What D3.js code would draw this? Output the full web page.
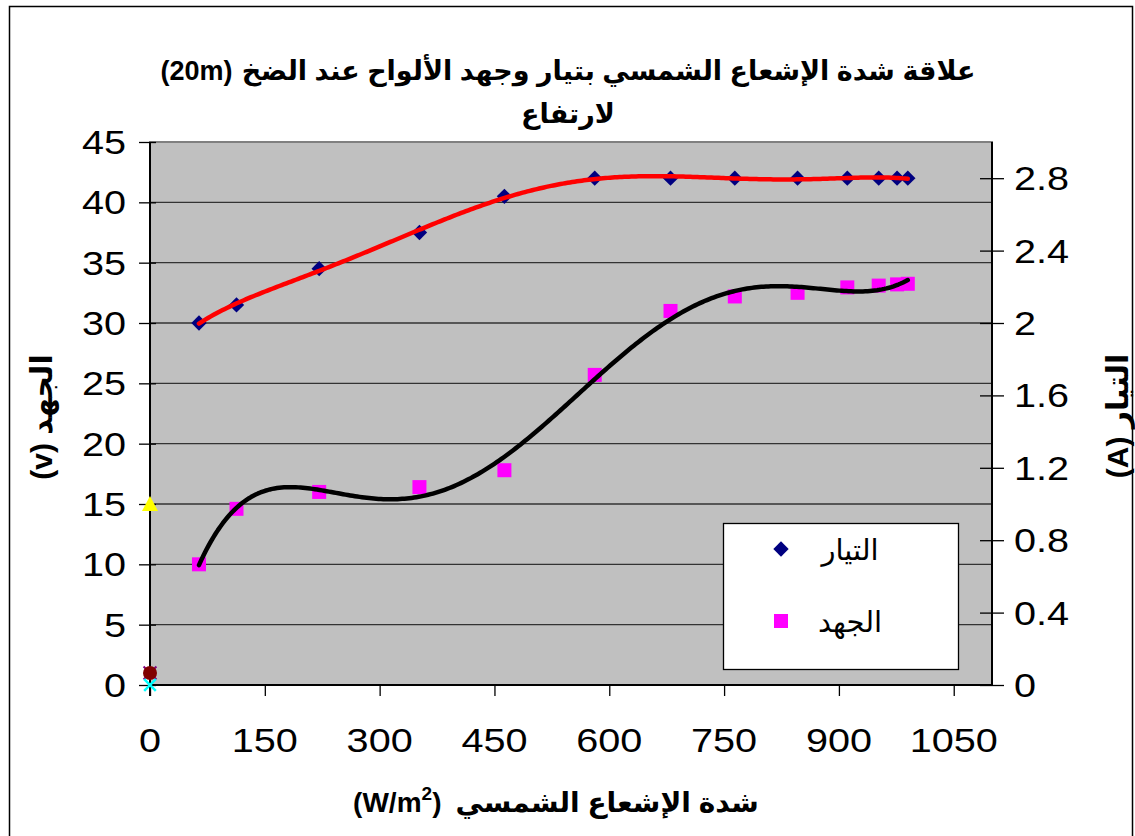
<!DOCTYPE html>
<html>
<head>
<meta charset="utf-8">
<script src="https://cdn.jsdelivr.net/npm/d3@7"></script>
<style>
  html, body { margin: 0; padding: 0; background: #fff; }
  svg { display: block; }
  text { font-family: "Liberation Sans", Arial, "DejaVu Sans", sans-serif; }
</style>
</head>
<body>
<svg id="chart" width="1135" height="836"></svg>
<script>
// Solar radiation (W/m²) at each measurement
const radiation = [64, 113, 221, 352, 463, 581, 680, 764, 846, 911, 952, 976, 990];
// Panel current (A), right axis
const current = [2.0, 2.1, 2.3, 2.5, 2.7, 2.8, 2.8, 2.8, 2.8, 2.8, 2.8, 2.8, 2.8];
// Panel voltage (V), left axis
const voltage = [10.0, 14.6, 16.0, 16.4, 17.8, 25.7, 31.0, 32.2, 32.5, 32.95, 33.1, 33.2, 33.25];

// Extra single-point series plotted at zero radiation (left axis)
const triangleSeries = [{ x: 0, y: 15 }];
const circleSeries = [{ x: 0, y: 1 }];
const crossSeries = [{ x: 0, y: 0 }];

// Axis ticks
const xTicks = [0, 150, 300, 450, 600, 750, 900, 1050];
const leftTicks = [0, 5, 10, 15, 20, 25, 30, 35, 40, 45];
const rightTicks = [0, 0.4, 0.8, 1.2, 1.6, 2.0, 2.4, 2.8];
const rightTickLabels = ["0", "0.4", "0.8", "1.2", "1.6", "2", "2.4", "2.8"];

const titleArabic = "علاقة شدة الإشعاع الشمسي بتيار وجهد الألواح عند الضخ";
const titleUnit = "(20m)";
const titleLine2 = "لارتفاع";
const xTitle = "شدة الإشعاع الشمسي";
const xUnit = "(W/m";
const leftTitle = "الجهد (v)\u200F";
const rightTitle = "التيار (A)\u200F";
const legendLabels = ["التيار", "الجهد"];

const svg = d3.select("#chart");
const plot = { left: 150, top: 142, right: 992, bottom: 685 };

const x = d3.scaleLinear().domain([0, 1100]).range([plot.left, plot.right]);
const yL = d3.scaleLinear().domain([0, 45]).range([plot.bottom, plot.top]);
const yR = d3.scaleLinear().domain([0, 3]).range([plot.bottom, plot.top]);

// Least-squares polynomial trend line (order 6)
function polyFit(xs, ys, deg) {
  const mx = d3.mean(xs), sx = (d3.max(xs) - d3.min(xs)) / 2;
  const ts = xs.map(v => (v - mx) / sx);
  const m = deg + 1;
  const A = Array.from({ length: m }, () => new Array(m + 1).fill(0));
  ts.forEach((t, k) => {
    const p = [];
    for (let i = 0; i < m; i++) p.push(Math.pow(t, i));
    for (let i = 0; i < m; i++) {
      for (let j = 0; j < m; j++) A[i][j] += p[i] * p[j];
      A[i][m] += p[i] * ys[k];
    }
  });
  for (let c = 0; c < m; c++) {
    let piv = c;
    for (let r = c + 1; r < m; r++) if (Math.abs(A[r][c]) > Math.abs(A[piv][c])) piv = r;
    [A[c], A[piv]] = [A[piv], A[c]];
    for (let r = 0; r < m; r++) {
      if (r === c) continue;
      const f = A[r][c] / A[c][c];
      for (let j = c; j <= m; j++) A[r][j] -= f * A[c][j];
    }
  }
  const coef = A.map((row, i) => row[m] / row[i]);
  return v => {
    const t = (v - mx) / sx;
    let s = 0;
    for (let i = m - 1; i >= 0; i--) s = s * t + coef[i];
    return s;
  };
}

// Outer chart border
svg.append("rect").attr("x", 9.5).attr("y", 6.5).attr("width", 1123).attr("height", 840)
  .attr("fill", "#fff").attr("stroke", "#000").attr("stroke-width", 1.5);

// Plot area
svg.append("rect").attr("x", plot.left).attr("y", plot.top)
  .attr("width", plot.right - plot.left).attr("height", plot.bottom - plot.top)
  .attr("fill", "#c0c0c0").attr("stroke", "#808080").attr("stroke-width", 2);

// Gridlines
svg.append("g").selectAll("line").data(leftTicks.filter(d => d > 0 && d < 45)).join("line")
  .attr("x1", plot.left).attr("x2", plot.right)
  .attr("y1", d => yL(d)).attr("y2", d => yL(d))
  .attr("stroke", "#333").attr("stroke-width", 1.3);

// Axes (tick marks from d3, labels drawn below with a wider numeral face)
const gx = svg.append("g").attr("transform", `translate(0,${plot.bottom})`)
  .call(d3.axisBottom(x).tickValues(xTicks).tickSize(11).tickSizeOuter(0).tickFormat(""));
const gl = svg.append("g").attr("transform", `translate(${plot.left},0)`)
  .call(d3.axisLeft(yL).tickValues(leftTicks).tickSize(11).tickSizeOuter(0).tickFormat(""));
const gr = svg.append("g").attr("transform", `translate(${plot.right},0)`)
  .call(d3.axisRight(yR).tickValues(rightTicks).tickSize(12).tickSizeOuter(0).tickFormat(""));
[gx, gl, gr].forEach(g => {
  g.select(".domain").attr("stroke", "#000").attr("stroke-width", 2);
  g.selectAll(".tick line").attr("stroke", "#000").attr("stroke-width", 1.3);
});
gx.select(".domain").remove();
svg.append("line").attr("x1", plot.left).attr("x2", plot.right).attr("y1", plot.bottom).attr("y2", plot.bottom)
  .attr("stroke", "#000").attr("stroke-width", 2);
gl.selectAll(".tick line").attr("x2", -11).attr("x1", 6);
gr.selectAll(".tick line").attr("x1", -12).attr("x2", 12);
gr.select(".domain").attr("d", `M0,${plot.top}V${plot.bottom}`);
gl.select(".domain").attr("d", `M0,${plot.top}V${plot.bottom + 11}`);

const numSize = "33px", numStretch = 1.2;
function numLabel(px, py, anchor, t) {
  svg.append("text").attr("transform", `translate(${px},${py}) scale(${numStretch},1)`)
    .attr("text-anchor", anchor).style("font-size", numSize).attr("fill", "#000").text(t);
}
xTicks.forEach(d => numLabel(x(d), 752, "middle", d));
leftTicks.forEach(d => numLabel(126, yL(d) + 12, "end", d));
rightTicks.forEach((d, i) => numLabel(1014, yR(d) + 12, "start", rightTickLabels[i]));

// Trend lines
function trend(ys, yScale, color) {
  const f = polyFit(radiation, ys, 6);
  const x0 = d3.min(radiation), x1 = d3.max(radiation);
  const pts = d3.range(0, 301).map(i => x0 + (x1 - x0) * i / 300);
  svg.append("path")
    .attr("d", d3.line().x(v => x(v)).y(v => yScale(f(v)))(pts))
    .attr("fill", "none").attr("stroke", color).attr("stroke-width", 4.5)
    .attr("stroke-linecap", "round").attr("stroke-linejoin", "round");
}

// Voltage markers (squares)
const sq = 14;
svg.append("g").selectAll("rect").data(voltage).join("rect")
  .attr("x", (d, i) => x(radiation[i]) - sq / 2).attr("y", d => yL(d) - sq / 2)
  .attr("width", sq).attr("height", sq).attr("fill", "#ff00ff");

// Current markers (diamonds)
const diamond = d3.symbol().type(d3.symbolDiamond2).size(150);
svg.append("g").selectAll("path").data(current).join("path")
  .attr("d", diamond)
  .attr("transform", (d, i) => `translate(${x(radiation[i])},${yR(d)})`)
  .attr("fill", "#000080");

trend(voltage, yL, "#000");
trend(current, yR, "#ff0000");

// Points at zero radiation
svg.append("g").selectAll("path").data(triangleSeries).join("path")
  .attr("d", "M0,-8L8,7L-8,7Z")
  .attr("transform", d => `translate(${x(d.x)},${yL(d.y)})`).attr("fill", "#ffff00");
svg.append("g").selectAll("path").data(circleSeries).join("path")
  .attr("d", d3.symbol().type(d3.symbolX).size(110))
  .attr("transform", d => `translate(${x(d.x)},${yL(d.y)})`)
  .attr("stroke", "#800080").attr("stroke-width", 2).attr("fill", "none");
svg.append("g").selectAll("circle").data(circleSeries).join("circle")
  .attr("cx", d => x(d.x)).attr("cy", d => yL(d.y)).attr("r", 7).attr("fill", "#800000");
svg.append("g").selectAll("path").data(crossSeries).join("path")
  .attr("d", d3.symbol().type(d3.symbolX).size(90))
  .attr("transform", d => `translate(${x(d.x)},${yL(d.y)})`)
  .attr("stroke", "#00ffff").attr("stroke-width", 2.5).attr("fill", "none");

// Lays out a bold line made of a Latin unit (left) and Arabic words (right), centred on cx
function mixedLine(cx, y, size, arabic, unitParts, gap) {
  const a = svg.append("text").attr("y", y).attr("text-anchor", "start")
    .style("font-size", size + "px").style("font-weight", "bold").attr("fill", "#000").text(arabic);
  const u = svg.append("text").attr("y", y).attr("text-anchor", "start")
    .style("font-size", size + "px").style("font-weight", "bold").attr("fill", "#000");
  unitParts.forEach(p => {
    const t = u.append("tspan").text(p.text);
    if (p.dy) t.attr("dy", p.dy);
    if (p.size) t.style("font-size", p.size + "px");
  });
  const wa = a.node().getComputedTextLength();
  const wu = u.node().getBBox().width;
  const left = cx - (wa + wu + gap) / 2;
  u.attr("x", left);
  a.attr("x", left + wu + gap);
}

// Title
mixedLine(568, 80, 27, titleArabic, [{ text: titleUnit }], 9);
svg.append("text").attr("x", 568).attr("y", 123).attr("text-anchor", "middle")
  .style("font-size", "27px").style("font-weight", "bold").attr("fill", "#000").text(titleLine2);

// X axis title
mixedLine(556, 812, 28, xTitle, [{ text: xUnit }, { text: "2", dy: -12, size: 19 }, { text: ")", dy: 12 }], 14);

// Axis titles (rotated)
svg.append("text").attr("transform", "translate(52,417) rotate(-90)")
  .attr("text-anchor", "middle").attr("direction", "rtl")
  .style("font-size", "30px").style("font-weight", "bold").text(leftTitle);
svg.append("text").attr("transform", "translate(1128,416) rotate(-90)")
  .attr("text-anchor", "middle").attr("direction", "rtl")
  .style("font-size", "30px").style("font-weight", "bold").text(rightTitle);

// Legend
const lg = svg.append("g");
lg.append("rect").attr("x", 723.5).attr("y", 523.5).attr("width", 235).attr("height", 146)
  .attr("fill", "#fff").attr("stroke", "#000").attr("stroke-width", 1.3);
lg.append("path").attr("d", diamond).attr("transform", "translate(781,549)").attr("fill", "#000080");
lg.append("rect").attr("x", 774).attr("y", 614).attr("width", sq).attr("height", sq).attr("fill", "#ff00ff");
legendLabels.forEach((t, i) => {
  lg.append("text").attr("x", 850).attr("y", 560 + i * 72).attr("text-anchor", "middle")
    .attr("direction", "rtl").style("font-size", "29px").attr("fill", "#000").text(t);
});
</script>
</body>
</html>
